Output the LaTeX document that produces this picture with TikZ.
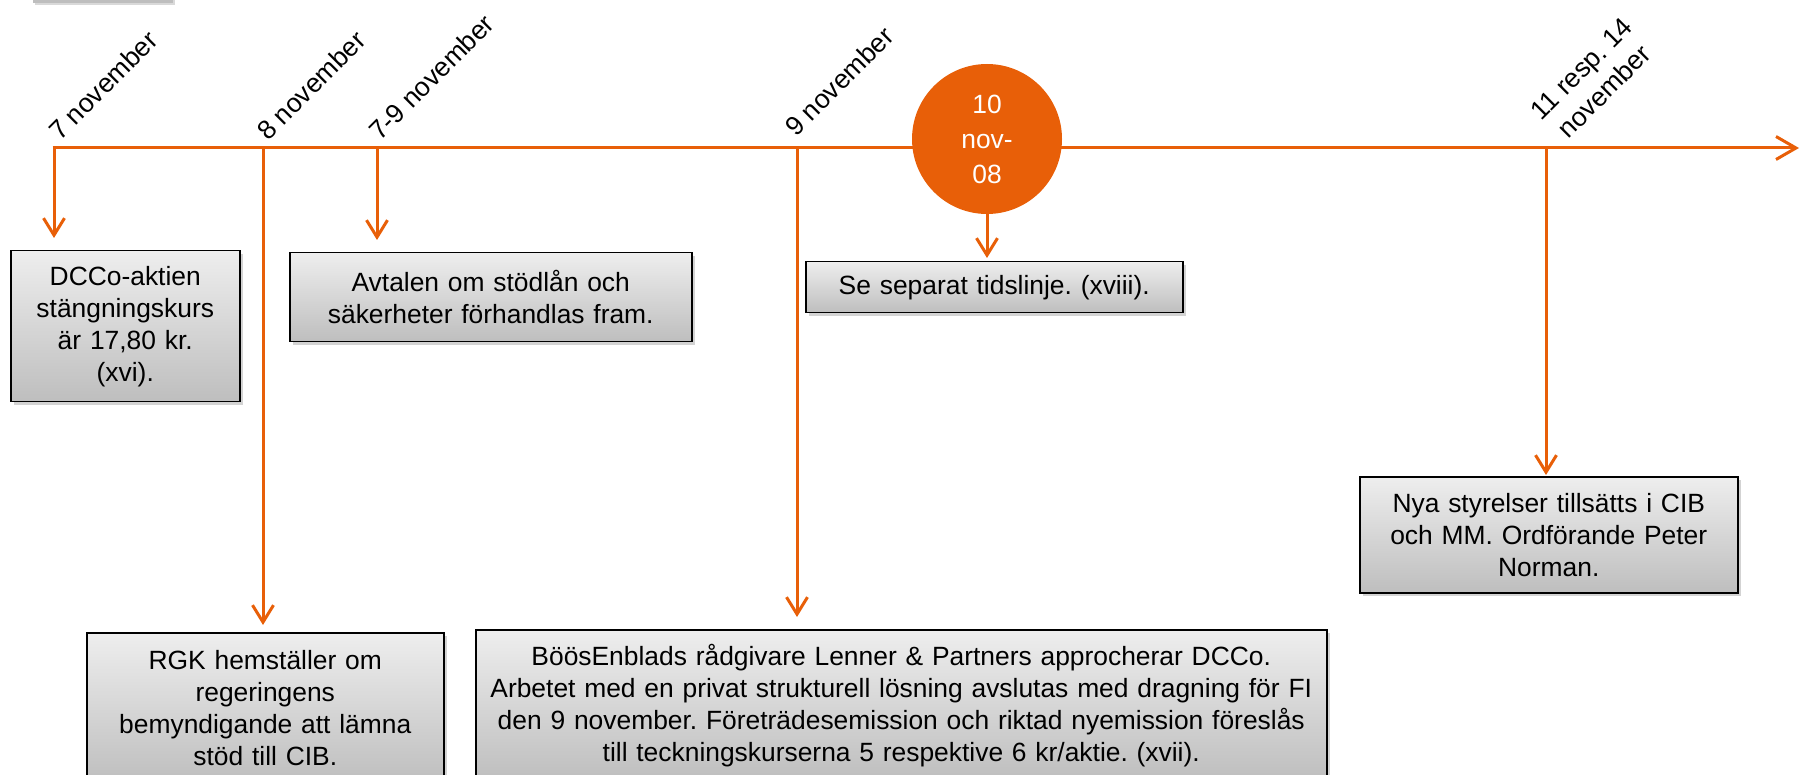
\documentclass[tikz,border=0pt]{standalone}
\usepackage{fontspec}
\setmainfont{Liberation Sans}
\usetikzlibrary{arrows.meta,shadows,calc}
\definecolor{orng}{RGB}{232,95,8}
\definecolor{boxtop}{RGB}{238,238,238}
\definecolor{boxbot}{RGB}{190,190,190}
\begin{document}
\frenchspacing
\begin{tikzpicture}[x=1pt,y=-1pt,
  evbox/.style={draw=black, line width=1.5pt, top color=boxtop, bottom color=boxbot,
    drop shadow={opacity=0.35,shadow xshift=3pt,shadow yshift=-3pt},
    align=center, inner sep=0pt, anchor=north west,
    font=\fontsize{26.4}{32}\selectfont},
  conn/.style={draw=orng, line width=3pt, -{Straight Barb[length=17pt,width=21pt]}},
  datelbl/.style={rotate=45, anchor=base west, inner sep=0pt,
    font=\fontsize{26.6}{32}\selectfont}]
\useasboundingbox (0,0) rectangle (1802,775);
\clip (0,0) rectangle (1802,775);

% fragment of a box at the top left
\path[fill=boxbot, drop shadow={opacity=0.3,shadow xshift=2pt,shadow yshift=-2pt}] (33,-40) rectangle (173,3);

% timeline
\coordinate (lstart) at (52.5,148);
\coordinate (lend) at (1799,148);
\coordinate (t1) at (54,148);
\coordinate (t2) at (263,148);
\coordinate (t3) at (377,148);
\coordinate (t4) at (797,148);
\coordinate (t6) at (1546,148);
\draw[orng, line width=3pt, -{Straight Barb[length=20pt,width=23pt]}] (lstart) -- (lend);

\node[circle, fill=orng, minimum size=150pt, inner sep=0pt, text=white, align=center,
  font=\fontsize{26.4}{35}\selectfont] (c5) at (987,139) {10\\nov-\\08};

% boxes
\node[evbox, minimum width=229pt, minimum height=151pt, text width=215pt] (b1) at (10,250)
  {DCCo-aktien\\stängningskurs\\är 17,80 kr.\\(xvi).};
\node[evbox, minimum width=357pt, minimum height=151pt, text width=340pt] (b2) at (86,632)
  {RGK hemställer om\\regeringens\\bemyndigande att lämna\\stöd till CIB.};
\node[evbox, minimum width=402pt, minimum height=89pt, text width=390pt] (b3) at (289,252)
  {Avtalen om stödlån och\\säkerheter förhandlas fram.};
\node[evbox, minimum width=851pt, minimum height=151pt, text width=840pt] (b4) at (475,629)
  {BöösEnblads rådgivare Lenner \& Partners approcherar DCCo.\\Arbetet med en privat strukturell lösning avslutas med dragning för FI\\den 9 november. Företrädesemission och riktad nyemission föreslås\\till teckningskurserna 5 respektive 6 kr/aktie. (xvii).};
\node[evbox, minimum width=377pt, minimum height=51pt, text width=365pt] (b5) at (805,261)
  {Se separat tidslinje. (xviii).};
\node[evbox, minimum width=378pt, minimum height=116pt, text width=365pt] (b6) at (1359,476)
  {Nya styrelser tillsätts i CIB\\och MM. Ordförande Peter\\Norman.};

% connectors
\draw[conn, shorten >=12pt] (t1) -- (t1 |- b1.north);
\draw[conn, shorten >=7pt] (t2) -- (t2 |- b2.north);
\draw[conn, shorten >=12pt] (t3) -- (t3 |- b3.north);
\draw[conn, shorten >=12pt] (t4) -- (t4 |- b4.north);
\draw[conn, shorten >=3pt] (c5.south) -- (c5.south |- b5.north);
\draw[conn, shorten >=1pt] (t6) -- (t6 |- b6.north);

% date labels
\node[datelbl] (l1) at (60,142) {7 november};
\node[datelbl] (l2) at (268,142) {8 november};
\node[datelbl] (l3) at (380,142) {7-9 november};
\node[datelbl] (l4) at (796,138) {9 november};
\node[rotate=45, anchor=south, align=center, inner sep=0pt,
  font=\fontsize{26.6}{32}\selectfont] (l6) at (1611,98) {11 resp. 14\\november};
\end{tikzpicture}
\end{document}
